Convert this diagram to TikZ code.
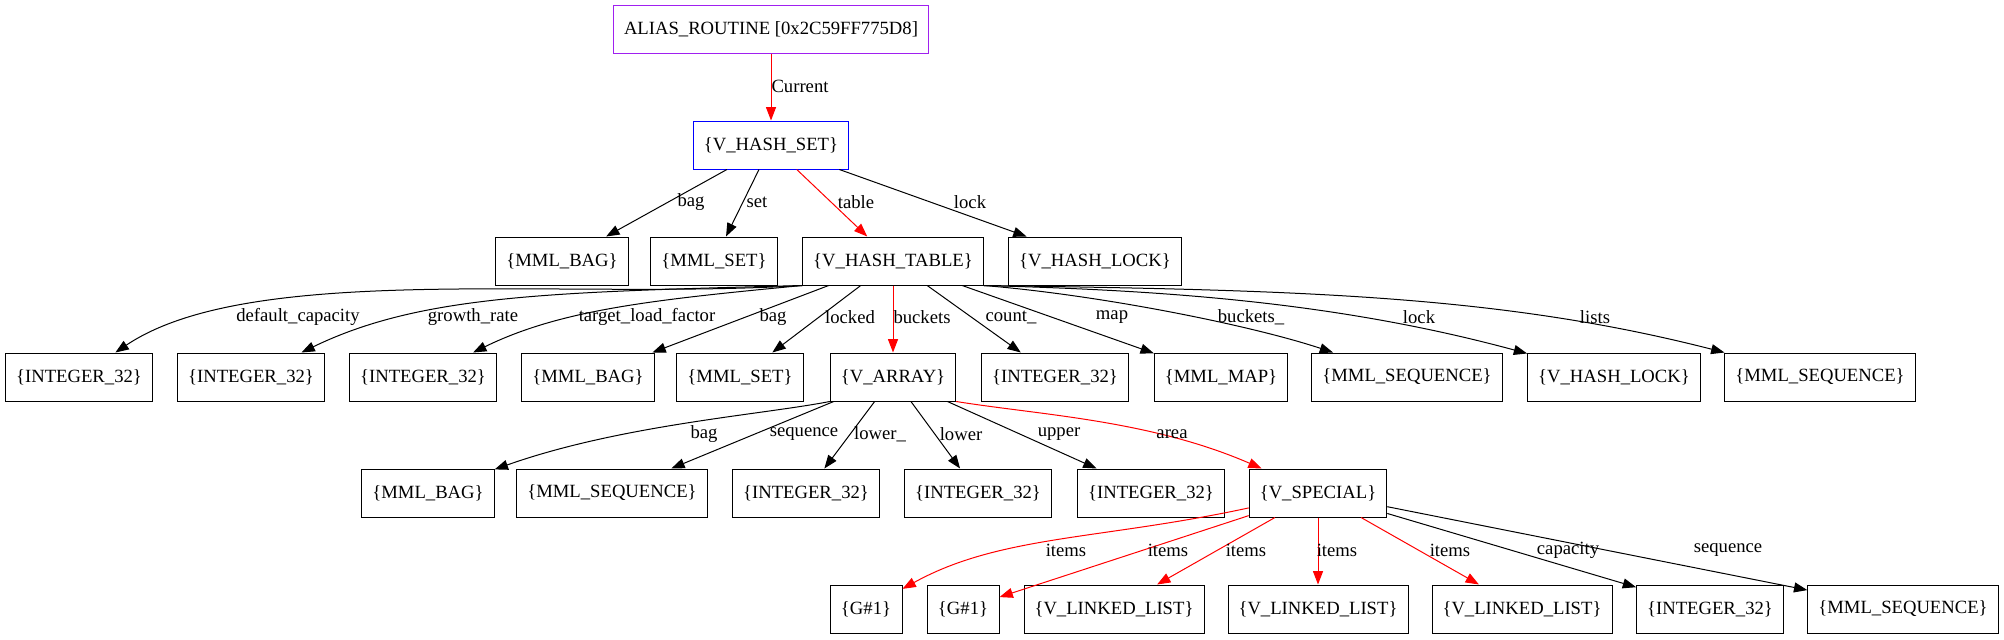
\documentclass[tikz,border=0pt]{standalone}
\usepackage{fontspec}
\setmainfont{Liberation Serif}
\usetikzlibrary{arrows.meta}

\definecolor{gvpurple}{HTML}{A020F0}

\tikzset{
  obj/.style={draw, line width=0.75pt, inner xsep=7.9pt, inner ysep=0pt,
    minimum height=36pt, minimum width=54pt,
    font=\fontsize{14pt}{16pt}\selectfont},
  link/.style={line width=0.75pt, -{Triangle[length=10pt,width=7.5pt]}},
  hot/.style={link, draw=red},
  lbl/.style={inner sep=0pt, font=\fontsize{14pt}{16pt}\selectfont},
}

\begin{document}
\begin{tikzpicture}[x=0.75pt, y=-0.75pt]
\useasboundingbox (0,0) rectangle (2004,639);

% objects
\node[obj, draw=gvpurple] (alias) at (771,29) {ALIAS\_ROUTINE [0x2C59FF775D8]};
\node[obj, draw=blue] (hset) at (771,145) {\{V\_HASH\_SET\}};

\node[obj] (bag1) at (562,261) {\{MML\_BAG\}};
\node[obj] (set1) at (714,261) {\{MML\_SET\}};
\node[obj] (table) at (893,261) {\{V\_HASH\_TABLE\}};
\node[obj] (lock1) at (1095,261) {\{V\_HASH\_LOCK\}};

\node[obj] (int1) at (79,377) {\{INTEGER\_32\}};
\node[obj] (int2) at (251,377) {\{INTEGER\_32\}};
\node[obj] (int3) at (423,377) {\{INTEGER\_32\}};
\node[obj] (bag2) at (588,377) {\{MML\_BAG\}};
\node[obj] (set2) at (740,377) {\{MML\_SET\}};
\node[obj] (array) at (893,377) {\{V\_ARRAY\}};
\node[obj] (int4) at (1055,377) {\{INTEGER\_32\}};
\node[obj] (map) at (1221,377) {\{MML\_MAP\}};
\node[obj] (seq1) at (1407,377) {\{MML\_SEQUENCE\}};
\node[obj] (lock2) at (1614,377) {\{V\_HASH\_LOCK\}};
\node[obj] (seq2) at (1820,377) {\{MML\_SEQUENCE\}};

\node[obj] (bag3) at (428,493) {\{MML\_BAG\}};
\node[obj] (seq3) at (612,493) {\{MML\_SEQUENCE\}};
\node[obj] (int5) at (806,493) {\{INTEGER\_32\}};
\node[obj] (int6) at (978,493) {\{INTEGER\_32\}};
\node[obj] (int7) at (1151,493) {\{INTEGER\_32\}};
\node[obj] (special) at (1318,493) {\{V\_SPECIAL\}};

\node[obj] (g1) at (866,609) {\{G\#1\}};
\node[obj] (g2) at (963,609) {\{G\#1\}};
\node[obj] (list1) at (1114,609) {\{V\_LINKED\_LIST\}};
\node[obj] (list2) at (1318,609) {\{V\_LINKED\_LIST\}};
\node[obj] (list3) at (1522,609) {\{V\_LINKED\_LIST\}};
\node[obj] (int8) at (1710,609) {\{INTEGER\_32\}};
\node[obj] (seq4) at (1903,609) {\{MML\_SEQUENCE\}};

% routine -> hash set
\draw[hot] (alias) -- (hset) node[lbl] (lcur) at (800,86) {Current};

% hash set
\draw[link] (hset) -- (bag1) node[lbl] (lhs1) at (691,202) {bag};
\draw[link] (hset) -- (set1) node[lbl] (lhs2) at (757,202) {set};
\draw[hot] (hset) -- (table) node[lbl] (lhs3) at (856,202) {table};
\draw[link] (hset) -- (lock1) node[lbl] (lhs4) at (970,202) {lock};

% hash table
\draw[link] (table.south west) .. controls (560,300) and (250,262) .. (int1)
  node[lbl] (lht1) at (298,317) {default\_capacity};
\draw[link] (table.south west) .. controls (550,292) and (420,295) .. (int2)
  node[lbl] (lht2) at (473,317) {growth\_rate};
\draw[link] (table.south west) .. controls (650,300) and (560,310) .. (int3)
  node[lbl] (lht3) at (647,317) {target\_load\_factor};
\draw[link] (table) -- (bag2) node[lbl] (lht4) at (773,317) {bag};
\draw[link] (table) -- (set2) node[lbl] (lht5) at (850,317) {locked};
\draw[hot] (table) -- (array) node[lbl] (lht6) at (922,317) {buckets};
\draw[link] (table) -- (int4) node[lbl] (lht7) at (1011,317) {count\_};
\draw[link] (table) -- (map) node[lbl] (lht8) at (1112,317) {map};
\draw[link] (table.south east) .. controls (1100,295) and (1250,325) .. (seq1)
  node[lbl] (lht9) at (1251,317) {buckets\_};
\draw[link] (table.south east) .. controls (1150,290) and (1330,300) .. (lock2)
  node[lbl] (lht10) at (1419,317) {lock};
\draw[link] (table.south east) .. controls (1300,290) and (1500,295) .. (seq2)
  node[lbl] (lht11) at (1595,317) {lists};

% array
\draw[link] (array.south west) .. controls (760,415) and (620,425) .. (bag3)
  node[lbl] (lar1) at (704,434) {bag};
\draw[link] (array) -- (seq3) node[lbl] (lar2) at (804,434) {sequence};
\draw[link] (array) -- (int5) node[lbl] (lar3) at (880,434) {lower\_};
\draw[link] (array) -- (int6) node[lbl] (lar4) at (961,434) {lower};
\draw[link] (array) -- (int7) node[lbl] (lar5) at (1059,434) {upper};
\draw[hot] (array.south east) .. controls (1040,415) and (1150,420) .. (special)
  node[lbl] (lar6) at (1172,434) {area};

% special
\draw[hot] (special) .. controls (1100,540) and (1000,535) .. (g1)
  node[lbl] (lsp1) at (1066,550) {items};
\draw[hot] (special) -- (g2) node[lbl] (lsp2) at (1168,550) {items};
\draw[hot] (special) -- (list1) node[lbl] (lsp3) at (1246,550) {items};
\draw[hot] (special) -- (list2) node[lbl] (lsp4) at (1337,550) {items};
\draw[hot] (special) -- (list3) node[lbl] (lsp5) at (1450,550) {items};
\draw[link] (special) -- (int8) node[lbl] (lsp6) at (1568,550) {capacity};
\draw[link] (special) -- (seq4) node[lbl] (lsp7) at (1728,550) {sequence};
\end{tikzpicture}
\end{document}
